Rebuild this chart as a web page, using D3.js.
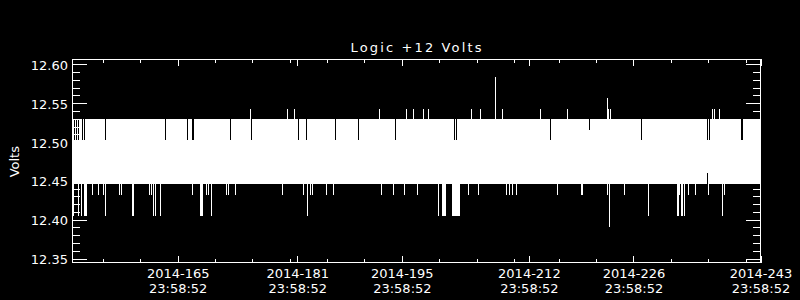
<!DOCTYPE html>
<html><head><meta charset="utf-8">
<script src="https://cdn.jsdelivr.net/npm/d3@7"></script>
<style>html,body{margin:0;padding:0;background:#000;} svg{display:block;}</style>
</head><body><svg id="c" width="800" height="300"></svg>
<script>
// ---- chart data ----
const title = "Logic +12 Volts";
const yLabel = "Volts";
const yTicks = [12.35, 12.40, 12.45, 12.50, 12.55, 12.60];
const xTickDays = [165, 181, 195, 212, 226, 243];   // day of year 2014
const xTickClock = "23:58:52";
const xMinorDays = [156, 161, 166, 171, 176, 181, 186, 191, 196, 201, 206, 211, 217, 222, 227, 232, 237, 242];
const timeStart = 151.92, timeEnd = 243.999;         // fractional day of year
const valueMin = 12.3449, valueMax = 12.6063;

// typical envelope of the densely sampled voltage trace
const bandLow = 12.446, bandHigh = 12.530;

// samples where the upper envelope differs from bandHigh
const topTimes = [152.214, 152.482, 152.696, 153.285, 153.499, 156.309, 164.339, 167.337, 167.953, 168.180,
  173.092, 175.849, 182.139, 183.210, 187.091, 190.169, 195.121, 203.017, 203.338, 215.865,
  221.085, 228.098, 236.931, 237.239, 241.481, 241.655,
  175.715, 180.667, 181.657, 192.980, 196.593, 197.530, 198.868, 199.631, 205.292, 206.497,
  208.504, 209.441, 214.527, 218.140, 223.494, 223.627, 223.895, 237.546, 237.908, 238.577];
const topValues = [12.502, 12.502, 12.502, 12.502, 12.502, 12.502, 12.502, 12.502, 12.502, 12.502,
  12.502, 12.502, 12.502, 12.502, 12.502, 12.502, 12.502, 12.502, 12.502, 12.502,
  12.516, 12.502, 12.502, 12.502, 12.502, 12.502,
  12.543, 12.543, 12.543, 12.543, 12.543, 12.543, 12.543, 12.543, 12.543, 12.543,
  12.584, 12.543, 12.543, 12.543, 12.557, 12.543, 12.543, 12.543, 12.543, 12.543];

// samples where the lower envelope differs from bandLow
const bottomTimes = [154.570, 155.373, 156.042, 158.183, 158.451, 162.292, 162.559, 168.006, 169.813, 170.081,
  172.530, 172.798, 173.801, 179.998, 182.808, 183.772, 184.039, 185.940, 186.917, 193.301,
  194.853, 196.326, 198.065, 204.891, 206.229, 209.976, 210.378, 210.779, 211.315, 216.802,
  220.041, 220.241, 223.494, 225.769, 233.223, 234.334, 235.271, 237.011, 239.152,
  152.120, 152.750, 153.191, 153.526, 153.660, 153.794, 156.309, 159.990, 160.124, 162.733,
  163.095, 163.724, 169.050, 169.184, 169.318, 170.496, 183.344, 200.876, 201.438, 201.572,
  201.706, 201.839, 202.776, 202.910, 203.044, 203.178, 203.311, 203.445, 203.579, 203.713,
  228.981, 232.889, 233.023, 233.424, 233.558, 233.826, 238.884,
  223.855, 236.877];
const bottomValues = [12.432, 12.432, 12.432, 12.432, 12.432, 12.432, 12.432, 12.432, 12.432, 12.432,
  12.432, 12.432, 12.432, 12.432, 12.432, 12.432, 12.432, 12.432, 12.432, 12.432,
  12.432, 12.432, 12.432, 12.432, 12.432, 12.432, 12.432, 12.432, 12.432, 12.432,
  12.432, 12.432, 12.432, 12.432, 12.432, 12.432, 12.432, 12.432, 12.432,
  12.405, 12.405, 12.405, 12.405, 12.405, 12.405, 12.405, 12.405, 12.405, 12.405,
  12.405, 12.405, 12.405, 12.405, 12.405, 12.405, 12.405, 12.405, 12.405, 12.405,
  12.405, 12.405, 12.405, 12.405, 12.405, 12.405, 12.405, 12.405, 12.405, 12.405,
  12.405, 12.405, 12.405, 12.405, 12.405, 12.405, 12.405,
  12.391, 12.460];

// ---- drawing ----
const svg = d3.select("#c");
svg.append("rect").attr("width", 800).attr("height", 300).attr("fill", "#000");
const FONT = "DejaVu Sans, sans-serif";

const x = d3.scaleLinear().domain([timeStart, timeEnd]).range([72.5, 760.5]);
const y = d3.scaleLinear().domain([valueMin, valueMax]).range([262.5, 59.5]);

// build envelope samples, one per pixel column
const nCols = 688;
const step = (timeEnd - timeStart) / nCols;
const samples = d3.range(1, nCols).map(i => ({t: timeStart + i * step, lo: bandLow, hi: bandHigh}));
topTimes.forEach((t, k) => {
  const i = Math.round((t - timeStart) / step) - 1;
  if (samples[i]) samples[i].hi = topValues[k];
});
bottomTimes.forEach((t, k) => {
  const i = Math.round((t - timeStart) / step) - 1;
  if (samples[i]) samples[i].lo = bottomValues[k];
});

svg.append("g").attr("shape-rendering", "crispEdges")
  .selectAll("rect").data(samples).join("rect")
  .attr("x", d => x(d.t) - 0.5)
  .attr("width", 1)
  .attr("y", d => y(d.hi))
  .attr("height", d => y(d.lo) - y(d.hi))
  .attr("fill", "#fff");

// axes
function style(g) {
  g.attr("shape-rendering", "crispEdges");
  g.select(".domain").remove();
  g.selectAll("line").attr("stroke", "#fff");
  g.selectAll("text").attr("fill", "#fff").attr("font-family", FONT).attr("font-size", 13);
}
const yMinor = d3.range(12.35, 12.6051, 0.01).filter(v => !yTicks.some(t => Math.abs(t - v) < 1e-6));
const tickT = xTickDays.map(d => d + (23 * 3600 + 58 * 60 + 52) / 86400);

// left
svg.append("g").attr("transform", "translate(72,0)")
  .call(d3.axisLeft(y).tickValues(yMinor).tickSize(-8).tickFormat("")).call(style);
svg.append("g").attr("transform", "translate(72,0)")
  .call(d3.axisLeft(y).tickValues(yTicks).tickSize(-15).tickPadding(4).tickFormat(d3.format(".2f")))
  .call(style)
  .call(g => g.selectAll("text").attr("dy", null).attr("y", 5));
// right
svg.append("g").attr("transform", "translate(761,0)")
  .call(d3.axisRight(y).tickValues(yMinor).tickSize(-8).tickFormat("")).call(style);
svg.append("g").attr("transform", "translate(761,0)")
  .call(d3.axisRight(y).tickValues(yTicks).tickSize(-15).tickFormat("")).call(style);
// bottom
svg.append("g").attr("transform", "translate(0,263)")
  .call(d3.axisBottom(x).tickValues(xMinorDays).tickSize(-4).tickFormat("")).call(style);
svg.append("g").attr("transform", "translate(0,263)")
  .call(d3.axisBottom(x).tickValues(tickT).tickSize(-7).tickFormat(""))
  .call(style)
  .call(g => g.selectAll(".tick").each(function(d, i) {
    const t = d3.select(this).append("text")
      .attr("fill", "#fff").attr("font-family", FONT).attr("font-size", 13)
      .attr("text-anchor", "middle");
    t.append("tspan").attr("x", 0).attr("y", 15).text("2014-" + d3.format("03d")(xTickDays[i]));
    t.append("tspan").attr("x", 0).attr("y", 30).text(xTickClock);
  }));
// top
svg.append("g").attr("transform", "translate(0,59)")
  .call(d3.axisTop(x).tickValues(xMinorDays).tickSize(-4).tickFormat("")).call(style);
svg.append("g").attr("transform", "translate(0,59)")
  .call(d3.axisTop(x).tickValues(tickT).tickSize(-7).tickFormat("")).call(style);

// frame
svg.append("rect").attr("x", 72.5).attr("y", 59.5).attr("width", 688).attr("height", 203)
  .attr("fill", "none").attr("stroke", "#fff").attr("shape-rendering", "crispEdges");

// title and y label
svg.append("text").attr("x", 416).attr("y", 51.5).attr("text-anchor", "middle")
  .attr("fill", "#fff").attr("font-family", FONT).attr("font-size", 13)
  .attr("textLength", 131).attr("lengthAdjust", "spacing").text(title);
svg.append("text").attr("transform", "translate(19.3,161.7) rotate(-90)").attr("text-anchor", "middle")
  .attr("fill", "#fff").attr("font-family", FONT).attr("font-size", 13).text(yLabel);
</script>
</body></html>
